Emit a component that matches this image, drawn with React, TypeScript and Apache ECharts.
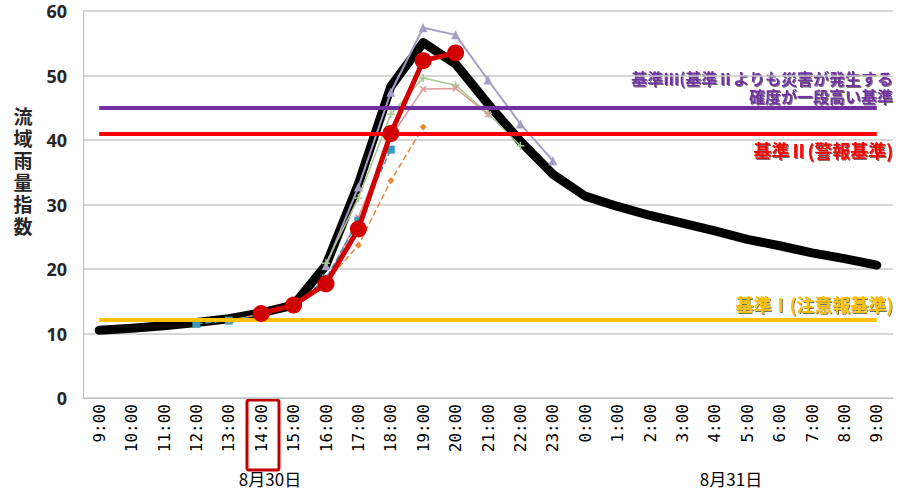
import React, { useEffect, useRef } from "react";
import * as echarts from "echarts";

const CATEGORIES = [
  "9:00", "10:00", "11:00", "12:00", "13:00", "14:00", "15:00", "16:00", "17:00", "18:00",
  "19:00", "20:00", "21:00", "22:00", "23:00", "0:00", "1:00", "2:00", "3:00", "4:00",
  "5:00", "6:00", "7:00", "8:00", "9:00",
];

const BLACK = [10.5, 10.8, 11.2, 11.7, 12.3, 13.2, 14.4, 20.6, 33.2, 48.3, 55.1, 51.8, 45.6, 39.8, 34.7, 31.3, 29.7, 28.3, 27.1, 25.9, 24.6, 23.6, 22.5, 21.6, 20.6];
const N = null;
const RED = [N, N, N, N, N, 13.1, 14.4, 17.7, 26.2, 41.0, 52.3, 53.5, N, N, N, N, N, N, N, N, N, N, N, N, N];
const LAVENDER = [N, N, N, N, N, N, N, 20.5, 32.7, 47.4, 57.4, 56.3, 49.3, 42.5, 36.8, N, N, N, N, N, N, N, N, N, N];
const GREEN = [N, N, N, N, N, N, N, 20.9, 31.0, 44.0, 49.6, 48.5, 44.1, 39.1, N, N, N, N, N, N, N, N, N, N, N];
const PINK = [N, N, N, N, N, N, N, 18.0, 28.0, 40.5, 47.9, 48.0, 44.0, N, N, N, N, N, N, N, N, N, N, N, N];
const ORANGE = [N, N, N, N, 12.0, 13.0, 14.3, 18.0, 23.7, 33.7, 42.0, N, N, N, N, N, N, N, N, N, N, N, N, N, N];
const TEAL = [N, N, N, 11.5, 12.0, 13.0, 14.3, 18.5, 27.5, 38.5, N, N, N, N, N, N, N, N, N, N, N, N, N, N, N];

const LEVEL_3 = 45;
const LEVEL_2 = 41;
const LEVEL_1 = 12.2;

const Y_TITLE = ["流", "域", "雨", "量", "指", "数"];
const LABEL_3_A = "基準Ⅲ(基準Ⅱよりも災害が発生する";
const LABEL_3_B = "確度が一段高い基準";
const LABEL_2 = "基準Ⅱ(警報基準)";
const LABEL_1 = "基準Ⅰ(注意報基準)";
const DAY_1 = "8月30日";
const DAY_2 = "8月31日";

const PLUS = "path://M4,0H6V4H10V6H6V10H4V6H0V4H4Z";

function threshold(value: number, color: string) {
  return {
    type: "line",
    data: [],
    silent: true,
    z: 3,
    markLine: {
      silent: true,
      symbol: "none",
      label: { show: false },
      lineStyle: { color, width: 4, type: "solid" },
      data: [[{ xAxis: 0, yAxis: value }, { xAxis: CATEGORIES.length - 1, yAxis: value }]],
    },
  };
}

function thin(data: any[], color: string, symbol: string, size: number, extra: any = {}) {
  return {
    type: "line",
    data,
    z: 4,
    symbol,
    symbolSize: size,
    showSymbol: true,
    lineStyle: { color, width: 1.5, ...(extra.lineStyle || {}) },
    itemStyle: { color, borderColor: color, borderWidth: 0 },
    symbolRotate: extra.rotate || 0,
  };
}

const labelFont = "'Noto Sans CJK JP', sans-serif";

export default function App() {
  const ref = useRef<HTMLDivElement>(null);
  useEffect(() => {
    const chart = echarts.init(ref.current!, null, { renderer: "svg" });
    const shadow = {
      textShadowColor: "rgba(0,0,0,0.55)",
      textShadowBlur: 1,
      textShadowOffsetX: 1,
      textShadowOffsetY: 1,
    };
    const rightText = (text: string, y: number, size: number, fill: string) => ({
      type: "text",
      x: 893,
      y,
      style: {
        text,
        align: "right",
        verticalAlign: "middle",
        fontSize: size,
        lineHeight: size + 1,
        fontWeight: "bold",
        fill,
        fontFamily: labelFont,
        ...shadow,
      },
    });
    chart.setOption({
      animation: false,
      backgroundColor: "#ffffff",
      grid: { left: 83, right: 5, top: 11, bottom: 91 },
      xAxis: {
        type: "category",
        data: CATEGORIES,
        boundaryGap: true,
        axisLine: { lineStyle: { color: "#bfbfbf", width: 1 } },
        axisTick: { show: false },
        axisLabel: {
          rotate: 90,
          interval: 0,
          margin: 6,
          color: "#000",
          fontSize: 16,
          fontFamily: "'DejaVu Sans Mono', monospace",
        },
        splitLine: { show: false },
      },
      yAxis: {
        type: "value",
        min: 0,
        max: 60,
        interval: 10,
        axisLine: { show: true, lineStyle: { color: "#bfbfbf" } },
        axisTick: { show: false },
        axisLabel: {
          margin: 16,
          color: "#262626",
          fontSize: 18,
          fontWeight: "bold",
          fontFamily: "'Open Sans', sans-serif",
        },
        splitLine: { lineStyle: { color: "#c8c8c8", width: 1.5 } },
      },
      series: [
        {
          type: "line",
          data: BLACK,
          z: 2,
          symbol: "none",
          lineStyle: { color: "#000", width: 9, cap: "round", join: "round" },
        },
        threshold(LEVEL_3, "#7030a0"),
        threshold(LEVEL_2, "#ff0000"),
        threshold(LEVEL_1, "#ffc000"),
        thin(LAVENDER, "#a69dc6", "triangle", 9, { lineStyle: { width: 2 } }),
        thin(GREEN, "#a9c88e", PLUS, 8),
        thin(PINK, "#dc9a9a", PLUS, 8, { rotate: 45 }),
        thin(TEAL, "#3a9bb8", "rect", 8, { lineStyle: { type: "dashed", width: 1.5 } }),
        thin(ORANGE, "#e88a3a", "diamond", 7, { lineStyle: { type: "dashed", width: 1.5 } }),
        {
          type: "line",
          data: RED,
          z: 6,
          symbol: "circle",
          symbolSize: 17,
          lineStyle: { color: "#d00000", width: 5 },
          itemStyle: { color: "#d00000", borderWidth: 0 },
        },
      ],
      graphic: [
        ...Y_TITLE.map((ch, i) => ({
          type: "text",
          x: 23,
          y: 115 + i * 22,
          style: {
            text: ch,
            align: "center",
            verticalAlign: "middle",
            fontSize: 19,
            lineHeight: 20,
            fontWeight: "bold",
            fill: "#262626",
            fontFamily: labelFont,
          },
        })),
        rightText(LABEL_3_A, 78, 16, "#7030a0"),
        rightText(LABEL_3_B, 96, 16, "#7030a0"),
        rightText(LABEL_2, 150, 18, "#ff0000"),
        rightText(LABEL_1, 304, 18, "#ffc000"),
        {
          type: "rect",
          shape: { x: 247, y: 400, width: 32, height: 70, r: 2 },
          style: { fill: "none", stroke: "#c00000", lineWidth: 3 },
        },
        {
          type: "text",
          x: 270,
          y: 478,
          style: {
            text: DAY_1,
            align: "center",
            verticalAlign: "middle",
            fontSize: 17,
            fill: "#000",
            fontFamily: labelFont,
          },
        },
        {
          type: "text",
          x: 731,
          y: 478,
          style: {
            text: DAY_2,
            align: "center",
            verticalAlign: "middle",
            fontSize: 17,
            fill: "#000",
            fontFamily: labelFont,
          },
        },
      ],
    });
    return () => chart.dispose();
  }, []);
  return <div ref={ref} style={{ width: 898, height: 489, position: "absolute", left: 0, top: 0 }} />;
}
